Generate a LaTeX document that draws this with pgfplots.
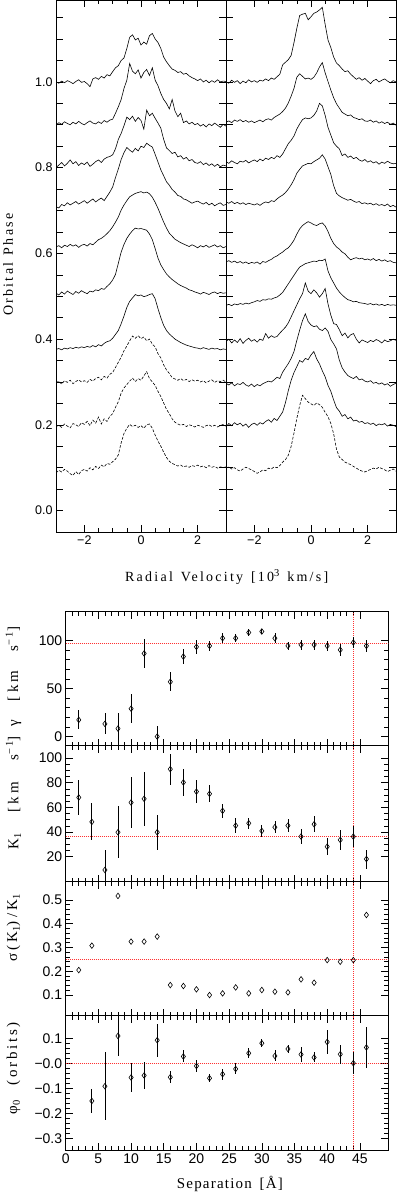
\documentclass[border=0pt]{standalone}
\usepackage{fontspec}
\setmainfont{Liberation Serif}
\newfontfamily\tickfont{Liberation Sans}
\usepackage{pgfplots}
\usepackage{pgfplotstable}
\pgfplotsset{compat=1.18}

\definecolor{refred}{RGB}{255,50,50}
\newcommand\sups[1]{\raisebox{0.8ex}{\fontsize{10.5}{10}\selectfont #1}}
\newcommand\subs[1]{\raisebox{-0.4ex}{\fontsize{10.5}{10}\selectfont #1}}
% spaced label text: size, letter spacing, text
\newcommand\lab[3]{\fontsize{#1}{#1}\selectfont\addfontfeature{LetterSpace=#2}#3}

% line profiles: height above the baseline, in units of 0.001 in phase
\pgfplotstableread{
v    a10 a9  a8  a7  a6  a5  a4  a3  a2  a1
-3.0 0   2   0   0   0   0   0   0   0   0
-2.9 -3  8   6   -3  3   -4  2   4   3   6
-2.8 2   4   12  5   -2  3   -1  -3  -2  2
-2.7 -2  10  4   2   4   -2  3   5   6   8
-2.6 3   6   10  9   1   5   1   1   1   4
-2.5 0   3   18  4   6   1   4   6   -3  -2
-2.4 -4  9   9   8   2   -3  2   -2  7   -6
-2.3 1   5   14  12  5   4   5   3   4   3
-2.2 5   11  5   6   -1  0   3   7   0   -4
-2.1 -1  6   11  10  4   6   6   2   9   5
-2.0 1   3   7   14  6   2   4   5   5   8
-1.9 -4  8   13  8   2   -1  7   1   12  4
-1.8 -11 12  3   13  8   5   5   8   2   12
-1.7 7   7   8   18  5   3   9   4   15  7
-1.6 10  5   14  11  11  8   6   10  8   15
-1.5 6   10  18  16  17  6   11  13  22  10
-1.4 13  6   12  20  20  11  8   7   6   18
-1.3 9   13  20  14  25  9   14  15  18  14
-1.2 17  9   24  24  31  16  18  11  12  22
-1.1 14  14  26  34  38  22  20  20  24  20
-1.0 24  16  30  46  47  31  26  24  30  26
-0.9 33  30  44  68  58  44  35  36  45  32
-0.8 38  45  66  88  70  70  44  48  58  42
-0.7 50  62  80  110 86  96  60  60  78  70
-0.6 56  88  98  126 98  114 78  75  90  92
-0.5 78  107 118 138 108 128 98  86  98  104
-0.4 104 146 112 132 117 138 112 98  106 113
-0.3 110 128 120 127 121 146 120 109 113 108
-0.2 98  122 108 136 125 152 128 104 105 111
-0.1 102 131 117 130 127 150 125 110 112 106
0.0  86  112 110 141 129 151 127 103 108 110
0.1  93  125 90  138 126 149 123 107 118 104
0.2  88  132 134 148 128 147 125 98  128 112
0.3  108 118 121 143 124 138 128 102 112 114
0.4  113 136 127 139 116 125 130 90  104 104
0.5  100 107 115 122 104 104 118 84  96  88
0.6  92  94  104 104 90  82  95  68  82  74
0.7  78  76  92  86  74  66  74  58  70  62
0.8  58  62  66  72  58  55  56  42  55  48
0.9  47  53  46  58  44  45  44  30  40  36
1.0  38  40  40  50  32  38  36  22  30  27
1.1  30  62  33  40  25  32  30  12  18  22
1.2  27  35  36  34  18  27  24  9   10  19
1.3  22  22  25  26  14  22  20  6   6   16
1.4  24  30  28  24  10  18  16  10  3   18
1.5  18  8   20  18  7   15  13  5   5   14
1.6  20  12  24  16  4   12  10  8   0   16
1.7  14  5   16  12  1   8   8   3   4   13
1.8  10  9   19  8   5   6   6   7   2   17
1.9  7   3   12  11  2   3   4   4   -1  15
2.0  3   6   10  13  -2  1   3   6   3   18
2.1  7   0   14  9   3   -2  1   2   1   14
2.2  0   4   7   6   0   2   4   5   -2  16
2.3  4   -2  11  10  4   0   2   0   2   12
2.4  -2  5   5   4   -1  -3  0   4   4   17
2.5  3   1   9   8   2   1   3   7   0   13
2.6  -1  7   3   2   5   3   1   1   3   15
2.7  5   2   8   6   0   -1  2   5   -1  11
2.8  0   -3  2   9   3   2   -1  3   2   14
2.9  2   4   6   3   -2  0   1   6   5   12
3.0  1   0   4   5   1   1   0   2   1   14
}\lefttab

\pgfplotstableread{
v    b10 b9  b8  b7  b6  b5  b4  b3  b2  b1
-3.0 0   3   4   8   3   0   0   4   -4  4
-2.9 -3  6   0   5   6   2   6   0   3   7
-2.8 4   2   6   9   2   -1  -3  5   -2  2
-2.7 -1  8   2   4   5   3   4   -2  5   5
-2.6 3   5   -1  7   1   1   -2  3   0   0
-2.5 -4  9   5   3   4   4   7   1   4   -3
-2.4 2   4   3   6   0   2   -4  6   -3  2
-2.3 -2  7   7   2   3   5   3   0   2   6
-2.2 5   3   1   5   -1  3   8   -3  -6  3
-2.1 0   6   5   3   2   6   1   2   1   0
-2.0 3   2   8   1   0   8   5   -4  4   -4
-1.9 -1  5   4   4   3   11  -1  1   -1  -8
-1.8 4   8   10  0   -2  9   6   -2  5   -5
-1.7 2   4   6   5   4   13  3   3   2   0
-1.6 7   9   12  8   2   12  19  6   8   -2
-1.5 3   11  9   6   6   15  8   9   12  4
-1.4 9   8   14  11  9   14  14  7   6   2
-1.3 6   14  11  9   14  17  10  12  15  7
-1.2 12  18  18  15  17  19  12  18  10  5
-1.1 18  22  14  20  22  24  20  15  20  10
-1.0 40  28  22  24  26  30  27  30  30  18
-0.9 46  36  34  30  32  40  34  40  52  24
-0.8 52  48  46  38  36  50  44  50  80  34
-0.7 62  64  54  48  44  60  58  62  104 55
-0.6 92  82  64  60  54  70  72  78  122 86
-0.5 125 108 80  75  68  80  86  104 136 120
-0.4 155 116 92  84  80  89  100 128 150 150
-0.3 158 110 102 92  88  93  112 150 146 174
-0.2 160 104 106 95  93  97  137 166 155 166
-0.1 145 106 104 98  97  99  118 148 152 158
0.0  152 103 106 97  94  101 112 140 163 154
0.1  160 108 112 102 90  103 121 136 171 150
0.2  163 118 122 106 88  102 114 138 154 156
0.3  168 132 140 110 92  105 104 130 142 152
0.4  174 142 134 118 94  104 112 127 126 146
0.5  134 118 112 108 87  108 124 133 112 134
0.6  98  98  84  90  74  80  88  125 92  124
0.7  80  78  66  72  58  64  62  106 78  108
0.8  58  60  48  46  46  52  42  96  58  84
0.9  44  46  40  28  38  40  40  84  40  48
1.0  38  36  34  22  33  31  28  58  32  30
1.1  30  26  18  18  26  24  14  40  20  24
1.2  24  22  22  15  22  18  20  30  24  18
1.3  26  18  14  12  14  13  9   22  14  15
1.4  18  20  17  14  8   11  16  18  18  12
1.5  12  14  11  10  11  8   19  15  9   8
1.6  6   12  14  7   13  9   6   20  11  4
1.7  10  9   8   9   10  6   -3  12  6   0
1.8  4   11  5   4   12  5   4   14  8   -3
1.9  8   6   9   6   8   4   1   9   3   -5
2.0  2   5   3   3   10  2   -2  7   5   -2
2.1  -4  8   6   5   7   4   3   10  1   1
2.2  3   3   1   1   11  1   0   4   4   4
2.3  6   6   4   4   6   3   5   6   -2  2
2.4  0   1   -2  0   9   0   2   2   2   6
2.5  4   4   3   2   5   2   -3  5   0   3
2.6  7   0   0   -1  8   -1  4   0   3   0
2.7  2   3   5   3   4   2   0   3   -3  -4
2.8  -2  -2  1   -3  6   0   2   -3  1   -1
2.9  3   1   -1  0   2   1   6   1   -1  2
3.0  0   -4  0   -4  1   0   3   4   -4  -3
}\righttab

\pgfplotstableread{
x  y     e
2  17.4  10
6  13.2  11
8  8.3   16
10 29.0  15
12 86.5  15
14 0.0   11
16 57.0  10
18 83.3  8
20 93.4  7
22 94.4  5
24 102.4 5
26 102.4 4
28 108.3 4
30 109.4 3
32 102.4 5
34 94.4  4
36 95.5  5
38 95.5  5
40 94.4  5
42 90.3  6
44 97.9  6
46 94.4  6
}\gammatab

\pgfplotstableread{
x  y    e
2  68.0 14
4  48.2 15
6  9.2  16
8  39.8 21
10 63.9 21
12 66.9 22
14 39.8 14
16 91.0 12.6
18 80.2 11
20 72.8 9
22 71.0 7
24 57.2 5.7
26 45.2 6
28 47.1 4.5
30 40.9 5
32 43.9 5
34 45.2 5
36 36.3 6
38 46.3 6.5
40 28.1 7
42 33.6 8
44 36.3 8.5
46 18.1 7.7
}\ktab

\pgfplotstableread{
x  y
2  0.205
4  0.308
8  0.517
10 0.325
12 0.325
14 0.346
16 0.142
18 0.138
20 0.124
22 0.100
24 0.107
26 0.132
28 0.107
30 0.121
32 0.114
34 0.111
36 0.166
38 0.152
40 0.247
42 0.240
44 0.247
46 0.437
}\sigtab

\pgfplotstableread{
x  y      e
4  -0.151 0.049
6  -0.092 0.137
8  0.109  0.080
10 -0.057 0.058
12 -0.049 0.055
14 0.092  0.066
16 -0.056 0.025
18 0.027  0.024
20 -0.011 0.025
22 -0.060 0.017
24 -0.044 0.022
26 -0.023 0.022
28 0.040  0.019
30 0.080  0.016
32 0.029  0.022
34 0.057  0.017
36 0.035  0.031
38 0.023  0.020
40 0.085  0.047
42 0.036  0.038
44 0.000  0.043
46 0.063  0.083
}\phitab

\pgfplotsset{
  prof/.style={black, line width=0.6pt, no markers},
  dashprof/.style={prof, dash pattern=on 2.8pt off 1.6pt},
  common/.style={
    scale only axis,
    axis line style={line width=0.8pt},
    tick style={black, line width=0.6pt},
    major tick length=7pt,
    minor tick length=4pt,
  },
  specax/.style={
    common,
    width=170pt, height=531.5pt,
    xmin=-3, xmax=3, ymin=-0.05, ymax=1.19,
    xtick={-2,0,2}, xticklabels={−2,0,2},
    minor x tick num=3,
    ytick={0,0.05,0.1,0.15,0.2,0.25,0.3,0.35,0.4,0.45,0.5,0.55,0.6,0.65,0.7,0.75,0.8,0.85,0.9,0.95,1.0,1.05,1.1,1.15},
    tick label style={font=\tickfont\fontsize{12.5}{14}\selectfont},
  },
  sepax/.style={
    common,
    width=322.6pt, height=134pt,
    xmin=0, xmax=49.35,
    xtick={0,5,...,45},
    minor x tick num=4,
    tick label style={font=\tickfont\fontsize{14}{16}\selectfont},
  },
  ylab/.style={ylabel style={at={(axis description cs:-0.162,#1)}, anchor=center}},
  pts/.style={black, only marks, mark=diamond, mark size=2.8pt,
    mark options={line width=0.6pt, fill=none},
    error bars/.cd, y dir=both, y explicit, error mark=none,
    error bar style={line width=0.7pt}},
  refl/.style={color=refred, line width=1.1pt, dash pattern=on 1pt off 1pt, no markers},
}

\begin{document}
\begin{tikzpicture}
\useasboundingbox (0,0) rectangle (397pt,1193pt);

% left spectra panel
\begin{axis}[specax, at={(56pt,661pt)}, anchor=south west,
  yticklabels={0.0,,,,0.2,,,,0.4,,,,0.6,,,,0.8,,,,1.0,,,},
  ylabel={\makebox[102pt][s]{\lab{14}{16}{Orbital Phase}}},
  ylabel style={at={(axis description cs:-0.282,0.503)}, anchor=center},
  xlabel={\makebox[203pt][s]{\lab{14}{16}{Radial Velocity [10\sups{3} km/s]}}},
  xlabel style={at={(axis description cs:1.004,-0.084)}, anchor=center}]
\addplot[prof] table[x=v, y expr=\thisrow{a10}/1000+1.0] {\lefttab};
\addplot[prof] table[x=v, y expr=\thisrow{a9}/1000+0.897] {\lefttab};
\addplot[prof] table[x=v, y expr=\thisrow{a8}/1000+0.800] {\lefttab};
\addplot[prof] table[x=v, y expr=\thisrow{a7}/1000+0.709] {\lefttab};
\addplot[prof] table[x=v, y expr=\thisrow{a6}/1000+0.615] {\lefttab};
\addplot[prof] table[x=v, y expr=\thisrow{a5}/1000+0.507] {\lefttab};
\addplot[prof] table[x=v, y expr=\thisrow{a4}/1000+0.376] {\lefttab};
\addplot[dashprof] table[x=v, y expr=\thisrow{a3}/1000+0.298] {\lefttab};
\addplot[dashprof] table[x=v, y expr=\thisrow{a2}/1000+0.196] {\lefttab};
\addplot[dashprof] table[x=v, y expr=\thisrow{a1}/1000+0.088] {\lefttab};
\end{axis}

% right spectra panel
\begin{axis}[specax, at={(226pt,661pt)}, anchor=south west, yticklabels={}]
\addplot[prof] table[x=v, y expr=\thisrow{b10}/1000+1.0] {\righttab};
\addplot[prof] table[x=v, y expr=\thisrow{b9}/1000+0.903] {\righttab};
\addplot[prof] table[x=v, y expr=\thisrow{b8}/1000+0.810] {\righttab};
\addplot[prof] table[x=v, y expr=\thisrow{b7}/1000+0.712] {\righttab};
\addplot[prof] table[x=v, y expr=\thisrow{b6}/1000+0.577] {\righttab};
\addplot[prof] table[x=v, y expr=\thisrow{b5}/1000+0.479] {\righttab};
\addplot[prof] table[x=v, y expr=\thisrow{b4}/1000+0.394] {\righttab};
\addplot[prof] table[x=v, y expr=\thisrow{b3}/1000+0.293] {\righttab};
\addplot[prof] table[x=v, y expr=\thisrow{b2}/1000+0.200] {\righttab};
\addplot[dashprof] table[x=v, y expr=\thisrow{b1}/1000+0.095] {\righttab};
\end{axis}

% gamma
\begin{axis}[sepax, at={(65.7pt,447.3pt)}, anchor=south west,
  ymin=-9.5, ymax=130, ytick={0,50,100}, yticklabels={0,50,100},
  minor y tick num=4, xticklabels={},
  ylabel={\makebox[100pt][s]{\lab{15}{22}{γ [km s\sups{−1}]}}}, ylab=0.513]
\addplot[refl] coordinates {(0,97) (49.35,97)};
\addplot[refl] coordinates {(44,-9.5) (44,130)};
\addplot[pts] table[x=x, y=y, y error=e] {\gammatab};
\end{axis}

% K1
\begin{axis}[sepax, at={(65.7pt,311.3pt)}, anchor=south west, height=136pt,
  ymin=-0.3, ymax=110, ytick={20,40,60,80,100}, yticklabels={20,40,60,80,100},
  minor y tick num=3, xticklabels={},
  ylabel={\makebox[113pt][s]{\lab{15}{22}{K\subs{1} [km s\sups{−1}]}}}, ylab=0.652]
\addplot[refl] coordinates {(0,36) (49.35,36)};
\addplot[refl] coordinates {(44,-0.3) (44,110)};
\addplot[pts] table[x=x, y=y, y error=e] {\ktab};
\end{axis}

% sigma(K1)/K1
\begin{axis}[sepax, at={(65.7pt,177.3pt)}, anchor=south west,
  ymin=0.013, ymax=0.577, ytick={0.1,0.2,0.3,0.4,0.5},
  yticklabels={0.1,0.2,0.3,0.4,0.5},
  minor y tick num=4, xticklabels={},
  ylabel={\lab{15}{22}{σ(K\subs{1})/K\subs{1}}}, ylab=0.654]
\addplot[refl] coordinates {(0,0.248) (49.35,0.248)};
\addplot[refl] coordinates {(44,0.013) (44,0.577)};
\addplot[black, only marks, mark=diamond, mark size=2.8pt,
  mark options={line width=0.6pt, fill=none}] table[x=x, y=y] {\sigtab};
\end{axis}

% phi0
\begin{axis}[sepax, at={(65.7pt,43pt)}, anchor=south west, height=134.3pt,
  ymin=-0.347, ymax=0.19, ytick={-0.3,-0.2,-0.1,0,0.1},
  yticklabels={−0.3,−0.2,−0.1,−0.0,0.1},
  minor y tick num=4,
  xticklabels={0,5,10,15,20,25,30,35,40,45},
  ylabel={\makebox[92pt][s]{\lab{15}{18}{φ\subs{0} (orbits)}}}, ylab=0.61,
  xlabel={\makebox[106pt][s]{\lab{15}{8}{Separation [Å]}}},
  xlabel style={at={(axis description cs:0.509,-0.255)}, anchor=center}]
\addplot[refl] coordinates {(0,0) (49.35,0)};
\addplot[refl] coordinates {(44,-0.347) (44,0.19)};
\addplot[pts] table[x=x, y=y, y error=e] {\phitab};
\end{axis}
\end{tikzpicture}
\end{document}
